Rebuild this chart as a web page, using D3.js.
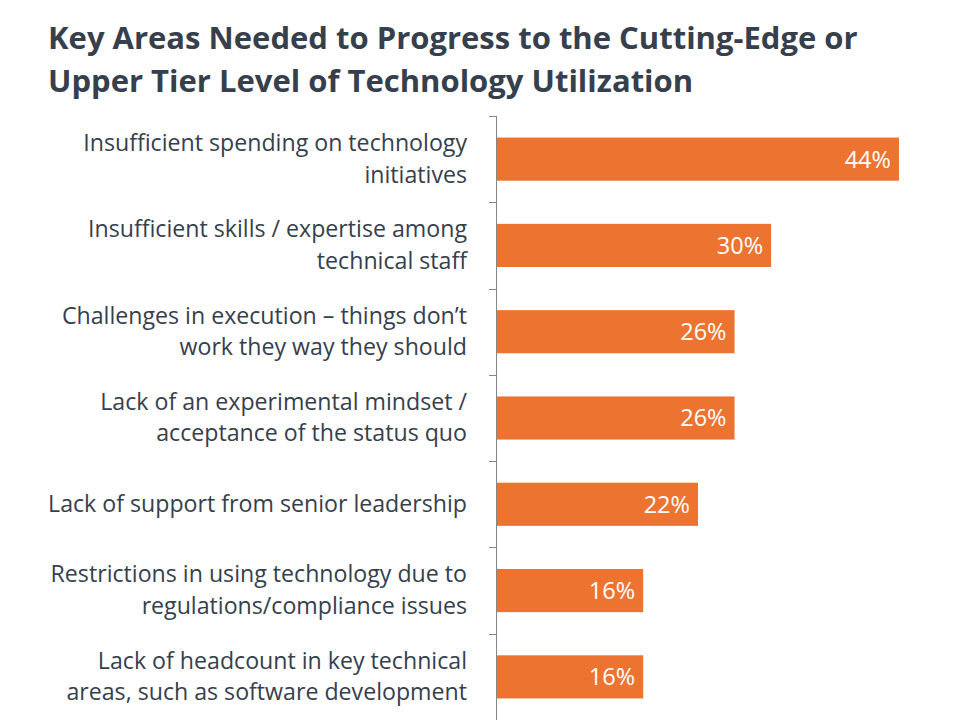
<!DOCTYPE html>
<html>
<head>
<meta charset="utf-8">
<script src="https://cdn.jsdelivr.net/npm/d3@7"></script>
<style>
  html, body { margin: 0; padding: 0; background: #ffffff; }
  svg { display: block; }
</style>
</head>
<body>
<svg id="chart" width="960" height="720"></svg>
<script>
// ---- data ----
const titleLines = [
  "Key Areas Needed to Progress to the Cutting-Edge or",
  "Upper Tier Level of Technology Utilization"
];
const categories = [
  "Insufficient spending on technology initiatives",
  "Insufficient skills / expertise among technical staff",
  "Challenges in execution – things don’t work they way they should",
  "Lack of an experimental mindset / acceptance of the status quo",
  "Lack of support from senior leadership",
  "Restrictions in using technology due to regulations/compliance issues",
  "Lack of headcount in key technical areas, such as software development"
];
const categoryLines = [
  ["Insufficient spending on technology", "initiatives"],
  ["Insufficient skills / expertise among", "technical staff"],
  ["Challenges in execution – things don’t", "work they way they should"],
  ["Lack of an experimental mindset /", "acceptance of the status quo"],
  ["Lack of support from senior leadership"],
  ["Restrictions in using technology due to", "regulations/compliance issues"],
  ["Lack of headcount in key technical", "areas, such as software development"]
];
const values = [44, 30, 26, 26, 22, 16, 16];

// ---- layout ----
const svg = d3.select("#chart");
const FONT = "'Open Sans', 'DejaVu Sans', sans-serif";
const textColor = "#36404c";
const barColor = "#ED7430";

const x0 = 497, yTop = 116, yBottom = 720;
const x = d3.scaleLinear().domain([0, 44]).range([x0, 899]);
const y = d3.scaleBand().domain(categories).range([yTop, yBottom])
  .paddingInner(0.5).paddingOuter(0.25);

// ---- title ----
const titleG = svg.append("g");
const t1 = titleG.append("text")
  .attr("x", 48).attr("y", 49)
  .attr("font-family", FONT).attr("font-weight", 700)
  .attr("font-size", 30).attr("fill", textColor)
  .text(titleLines[0]);
const w1 = t1.node().getComputedTextLength();
const titleSize = 30 * 810 / w1;
t1.attr("font-size", titleSize);
titleG.append("text")
  .attr("x", 48).attr("y", 92)
  .attr("font-family", FONT).attr("font-weight", 700)
  .attr("font-size", titleSize).attr("fill", textColor)
  .text(titleLines[1]);

// ---- category labels ----
const probe = svg.append("text").attr("font-family", FONT).attr("font-size", 22)
  .text("Insufficient spending on technology");
const labelSize = 22 * 384 / probe.node().getComputedTextLength();
probe.remove();
const lineH = 31.5;

const labelG = svg.append("g");
categories.forEach((c, i) => {
  const lines = categoryLines[i];
  const cy = y(c) + y.bandwidth() / 2;
  const first = cy - (lines.length - 1) * lineH / 2 + 0.33 * labelSize;
  const t = labelG.append("text")
    .attr("text-anchor", "end")
    .attr("font-family", FONT).attr("font-size", labelSize)
    .attr("fill", textColor);
  lines.forEach((ln, j) => {
    t.append("tspan").attr("x", 467).attr("y", first + j * lineH).text(ln);
  });
});

// ---- bars ----
svg.append("g").selectAll("rect").data(categories).join("rect")
  .attr("x", x(0))
  .attr("y", d => y(d))
  .attr("width", (d, i) => x(values[i]) - x(0))
  .attr("height", y.bandwidth())
  .attr("fill", barColor);

// ---- value labels ----
svg.append("g").selectAll("text").data(categories).join("text")
  .attr("x", (d, i) => x(values[i]) - 8)
  .attr("y", d => y(d) + y.bandwidth() / 2)
  .attr("dy", "0.36em")
  .attr("text-anchor", "end")
  .attr("font-family", FONT).attr("font-size", 23.5)
  .attr("fill", "#ffffff")
  .text((d, i) => values[i] + "%");

// ---- axis ----
const axisG = svg.append("g");
axisG.append("line")
  .attr("x1", x0 - 0.5).attr("x2", x0 - 0.5)
  .attr("y1", yTop).attr("y2", yBottom)
  .attr("stroke", "#868686").attr("stroke-width", 1);
const step = y.step();
const ticks = d3.range(categories.length + 1).map(i => yTop + i * step);
axisG.selectAll("line.tick").data(ticks).join("line")
  .attr("class", "tick")
  .attr("x1", x0 - 8).attr("x2", x0)
  .attr("y1", d => Math.round(d) + 0.5).attr("y2", d => Math.round(d) + 0.5)
  .attr("stroke", "#868686").attr("stroke-width", 1);
</script>
</body>
</html>
